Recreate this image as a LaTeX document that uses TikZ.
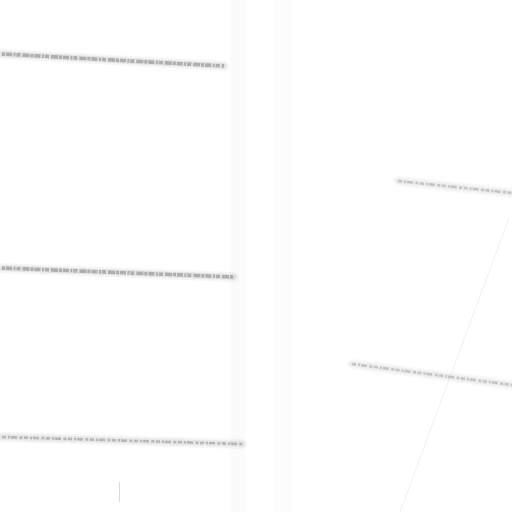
\documentclass[tikz,border=0pt]{standalone}
\begin{document}
\begin{tikzpicture}[x=1pt,y=-1pt,
  halo/.style={line width=10pt,gray,opacity=0.07,line cap=round},
  smudge/.style={line width=6pt,gray!80,opacity=0.18,line cap=round},
  ink/.style={line width=3.5pt,black!70,opacity=0.35,dash pattern=on 3pt off 1pt on 6pt off 1.5pt on 2pt off 1pt on 4pt off 2pt on 7pt off 1pt},
  faintink/.style={line width=2.5pt,black!70,opacity=0.3,dash pattern=on 4pt off 2pt on 2pt off 1pt on 6pt off 2.5pt on 3pt off 1.5pt},
  hair/.style={line width=0.5pt,gray!60,opacity=0.5}]
\useasboundingbox (0,0) rectangle (512,512);
\fill[white] (0,0) rectangle (512,512);
% faint panel edges
\fill[gray!3] (230,0) rectangle (246,512);
\fill[gray!2] (274,0) rectangle (292,512);
% left panel lines of blurred text
\foreach \a/\b/\c/\d in {2/54/224/66, 2/268/234/277}{
  \draw[halo] (\a,\b) -- (\c,\d);
  \draw[smudge] (\a,\b) -- (\c,\d);
  \draw[ink] (\a,\b) -- (\c,\d);
}
\draw[halo] (2,437) -- (242,444);
\draw[smudge,opacity=0.14] (2,437) -- (242,444);
\draw[faintink] (2,437) -- (242,444);
% small tick near bottom
\draw[hair] (119,482) -- (119,502);
% right panel lines
\foreach \a/\b/\c/\d in {398/181/512/193, 352/364/512/385}{
  \draw[halo,opacity=0.05] (\a,\b) -- (\c,\d);
  \draw[smudge,opacity=0.1] (\a,\b) -- (\c,\d);
  \draw[faintink,opacity=0.25] (\a,\b) -- (\c,\d);
}
% faint diagonal line
\draw[hair,opacity=0.3] (509,218) -- (400,512);
\end{tikzpicture}
\end{document}
